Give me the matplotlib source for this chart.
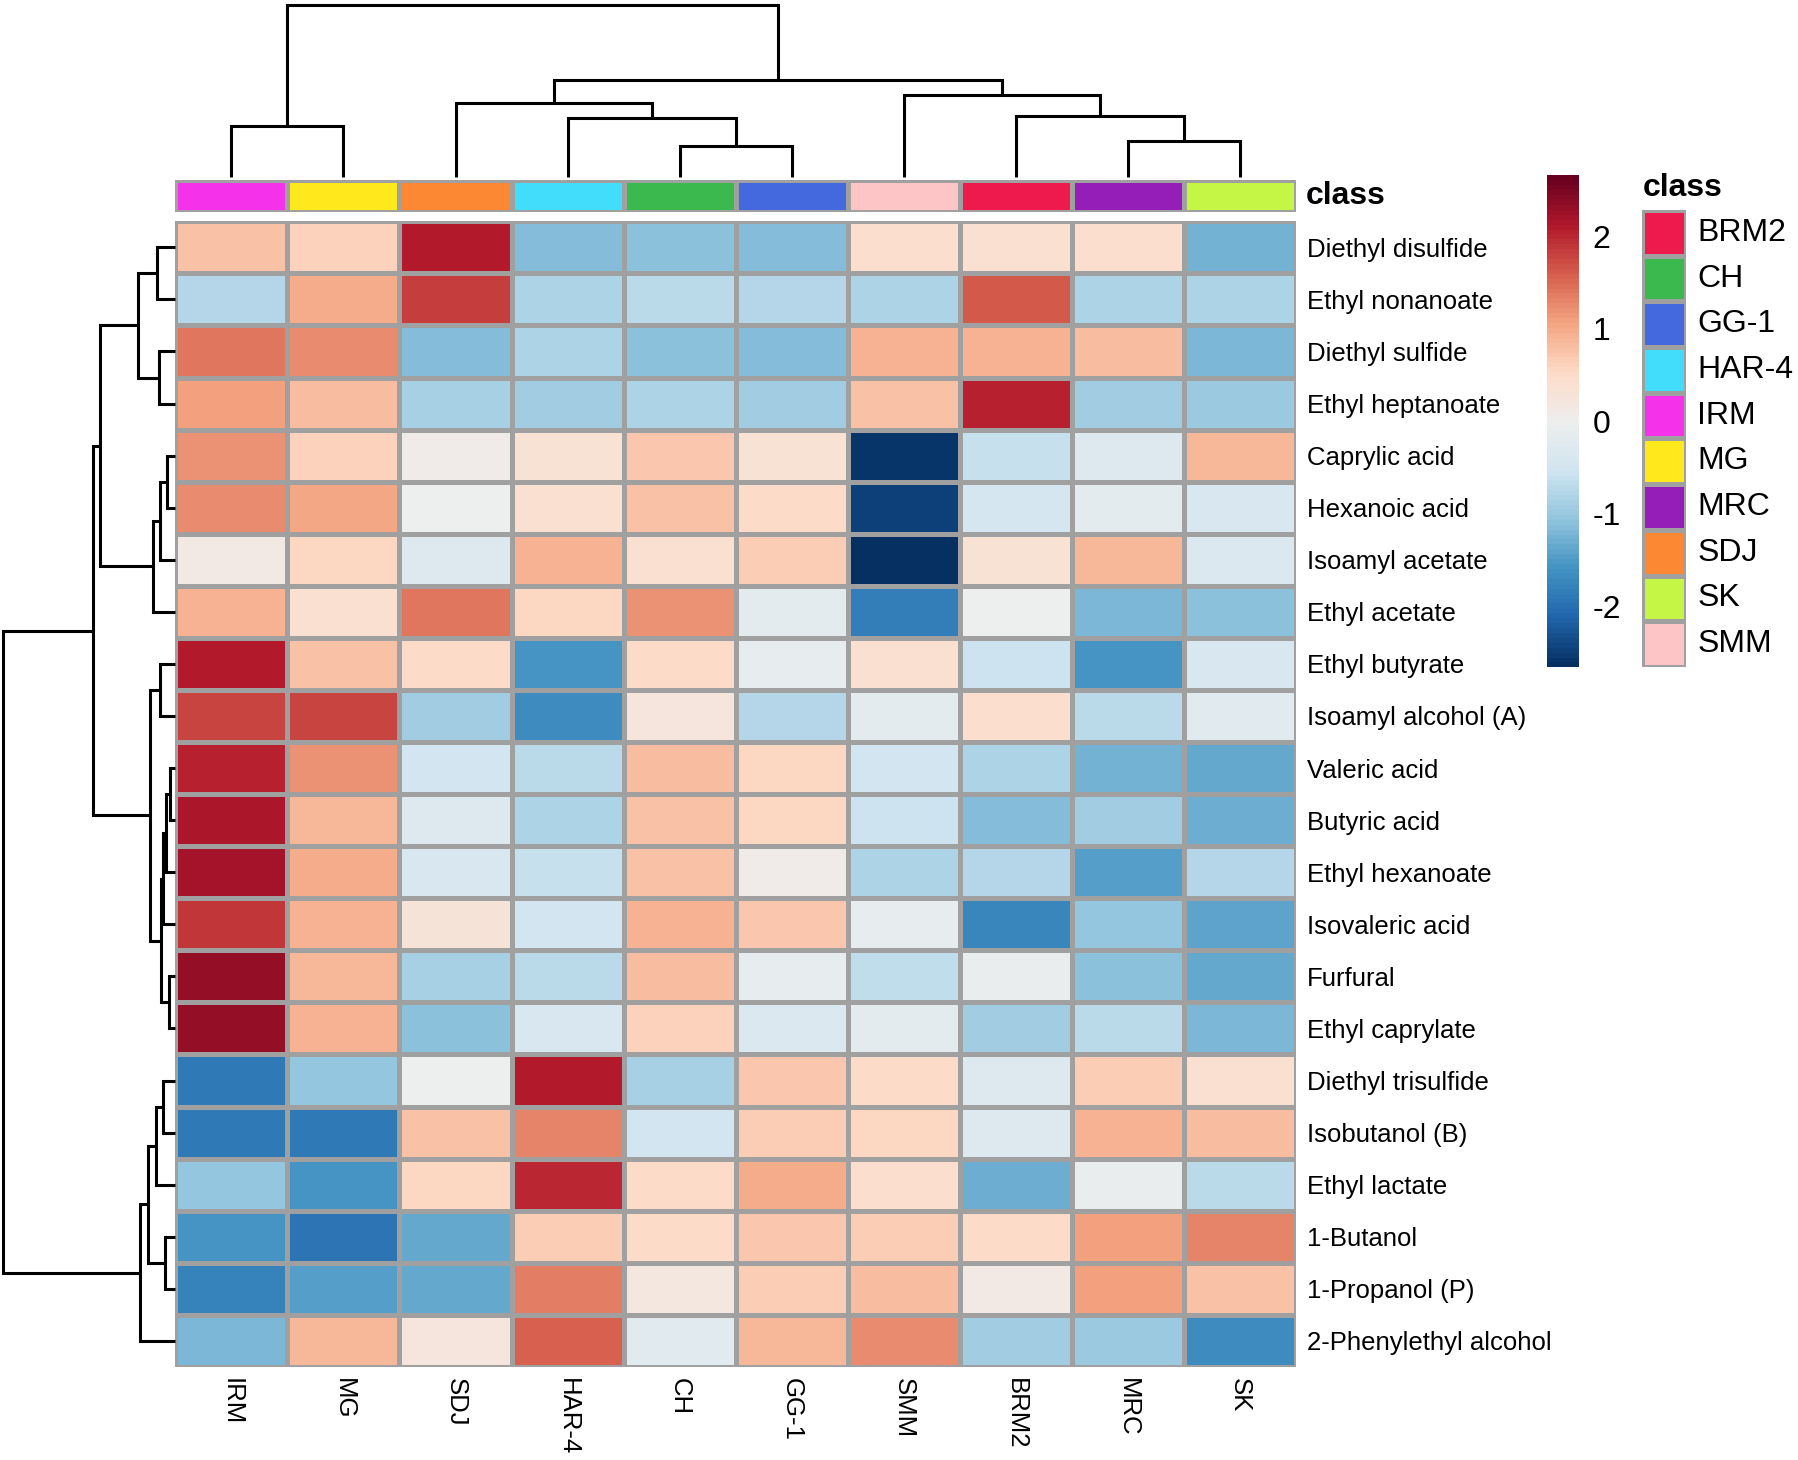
import numpy as np
import matplotlib
matplotlib.use("Agg")
import matplotlib.pyplot as plt
from matplotlib.colors import ListedColormap, LinearSegmentedColormap, Normalize
from matplotlib.cm import ScalarMappable

plt.rcParams["font.family"] = ["Liberation Sans", "DejaVu Sans"]
plt.rcParams["axes.unicode_minus"] = False

# --- data -------------------------------------------------------------
col_labels = ["IRM", "MG", "SDJ", "HAR-4", "CH", "GG-1", "SMM", "BRM2", "MRC", "SK"]
row_labels = [
    "Diethyl disulfide", "Ethyl nonanoate", "Diethyl sulfide", "Ethyl heptanoate",
    "Caprylic acid", "Hexanoic acid", "Isoamyl acetate", "Ethyl acetate",
    "Ethyl butyrate", "Isoamyl alcohol (A)", "Valeric acid", "Butyric acid",
    "Ethyl hexanoate", "Isovaleric acid", "Furfural", "Ethyl caprylate",
    "Diethyl trisulfide", "Isobutanol (B)", "Ethyl lactate", "1-Butanol",
    "1-Propanol (P)", "2-Phenylethyl alcohol",
]
values = [
    [0.75, 0.60, 2.10, -1.15, -1.10, -1.15, 0.45, 0.40, 0.45, -1.25],
    [-0.75, 1.00, 1.85, -0.80, -0.70, -0.75, -0.80, 1.60, -0.85, -0.85],
    [1.40, 1.25, -1.15, -0.80, -1.10, -1.15, 0.95, 0.95, 0.85, -1.20],
    [1.10, 0.85, -0.90, -0.95, -0.85, -0.95, 0.78, 2.05, -0.95, -1.00],
    [1.20, 0.60, 0.10, 0.35, 0.70, 0.35, -2.60, -0.60, -0.30, 0.88],
    [1.25, 1.05, -0.05, 0.40, 0.75, 0.52, -2.45, -0.45, -0.20, -0.40],
    [0.15, 0.55, -0.30, 0.95, 0.40, 0.65, -2.65, 0.35, 0.90, -0.35],
    [0.95, 0.42, 1.42, 0.55, 1.20, -0.20, -1.85, -0.05, -1.20, -1.10],
    [2.12, 0.75, 0.50, -1.55, 0.50, -0.15, 0.40, -0.55, -1.58, -0.42],
    [1.80, 1.78, -0.95, -1.70, 0.25, -0.75, -0.20, 0.45, -0.70, -0.25],
    [2.05, 1.20, -0.50, -0.70, 0.85, 0.55, -0.50, -0.85, -1.25, -1.35],
    [2.15, 0.88, -0.30, -0.80, 0.78, 0.55, -0.55, -1.15, -0.95, -1.30],
    [2.22, 1.00, -0.40, -0.62, 0.77, 0.10, -0.80, -0.75, -1.45, -0.78],
    [1.90, 0.92, 0.30, -0.50, 0.95, 0.70, -0.15, -1.72, -1.05, -1.42],
    [2.30, 0.90, -0.90, -0.72, 0.85, -0.12, -0.65, -0.10, -1.10, -1.35],
    [2.33, 0.95, -1.10, -0.38, 0.62, -0.32, -0.20, -0.93, -0.72, -1.20],
    [-1.90, -1.05, -0.05, 2.08, -0.88, 0.70, 0.48, -0.30, 0.68, 0.40],
    [-1.90, -1.90, 0.75, 1.28, -0.50, 0.68, 0.55, -0.30, 0.95, 0.85],
    [-1.05, -1.55, 0.58, 2.00, 0.53, 1.00, 0.45, -1.30, -0.08, -0.70],
    [-1.58, -1.95, -1.37, 0.68, 0.50, 0.72, 0.65, 0.50, 1.08, 1.28],
    [-1.80, -1.45, -1.38, 1.37, 0.20, 0.68, 0.85, 0.15, 1.07, 0.78],
    [-1.20, 0.88, 0.25, 1.55, -0.25, 0.88, 1.27, -0.95, -0.98, -1.70],
]
value_min, value_max = -2.66, 2.66

legend_classes = ["BRM2", "CH", "GG-1", "HAR-4", "IRM", "MG", "MRC", "SDJ", "SK", "SMM"]
legend_colors = ["#EE1A4E", "#3CB94E", "#4469DE", "#43DDFC", "#F532EA",
                 "#FFE81B", "#951EB8", "#FD8833", "#C5F545", "#FDC5C5"]

# column clustering: merge (a, b) at height h; leaves 0..9, new nodes 10..
col_merge_a = [4, 8, 0, 3, 7, 2, 6, 15, 12]
col_merge_b = [5, 9, 1, 10, 11, 13, 14, 16, 17]
col_merge_h = [31.3, 36.0, 51.0, 59.3, 61.3, 73.7, 82.0, 97.3, 172.3]

# row clustering: leaves 0..21, new nodes 22..
row_merge_a = [10, 14, 4, 22, 19, 25, 16, 27, 8, 24, 2, 0, 28, 31, 30, 34, 37, 33, 39, 40, 41]
row_merge_b = [11, 15, 5, 12, 20, 13, 17, 23, 9, 6, 3, 1, 18, 7, 29, 26, 21, 32, 35, 36, 38]
row_merge_h = [4.3, 5.7, 7.7, 8.3, 9.3, 11.7, 11.7, 13.3, 14.3, 14.7, 15.7, 17.3,
               18.3, 21.7, 24.3, 26.7, 35.0, 36.7, 75.0, 81.7, 171.7]

W, H = 1798, 1460
GRID = "#A0A0A0"

# reversed RdBu, with a slightly greyer centre as in the picture
palette = ["#053061", "#2166AC", "#4393C3", "#92C5DE", "#D1E5F0", "#EEEEEE",
           "#FDDBC7", "#F4A582", "#D6604D", "#B2182B", "#67001F"]


def add_axes_px(fig, x0, y0, x1, y1):
    return fig.add_axes([x0 / W, 1 - y1 / H, (x1 - x0) / W, (y1 - y0) / H])


def draw_dendrogram(ax, n, merge_a, merge_b, merge_h, vertical):
    pos = {i: i + 0.5 for i in range(n)}
    hgt = {i: 0.0 for i in range(n)}
    for k, (a, b, h) in enumerate(zip(merge_a, merge_b, merge_h)):
        xs = [pos[a], pos[a], pos[b], pos[b]]
        ys = [hgt[a], h, h, hgt[b]]
        if vertical:
            ax.plot(xs, ys, color="black", lw=2.2, clip_on=False,
                    solid_capstyle="butt", solid_joinstyle="miter")
        else:
            ax.plot(ys, xs, color="black", lw=2.2, clip_on=False,
                    solid_capstyle="butt", solid_joinstyle="miter")
        pos[n + k] = (pos[a] + pos[b]) / 2
        hgt[n + k] = h
    ax.axis("off")


fig = plt.figure(figsize=(W / 100, H / 100), dpi=100)
cmap = LinearSegmentedColormap.from_list("rdbu_r", palette, N=100)
norm = Normalize(value_min, value_max)

hx0, hx1, hy0, hy1 = 175.4, 1295.8, 221.3, 1366.9
n_rows, n_cols = len(row_labels), len(col_labels)

# heatmap
ax = add_axes_px(fig, hx0, hy0, hx1, hy1)
ax.pcolormesh(np.arange(n_cols + 1), np.arange(n_rows + 1), np.array(values),
              cmap=cmap, norm=norm, edgecolors=GRID, linewidth=2.5)
ax.set_xlim(0, n_cols)
ax.set_ylim(n_rows, 0)
ax.set_yticks(np.arange(n_rows) + 0.5)
ax.set_yticklabels(row_labels, fontsize=18.5)
ax.yaxis.tick_right()
ax.set_xticks(np.arange(n_cols) + 0.5)
ax.set_xticklabels(col_labels, fontsize=18.5, rotation=270, ha="center", va="top")
ax.tick_params(length=0, pad=8)
for s in ax.spines.values():
    s.set_visible(False)

# class annotation bar
axc = add_axes_px(fig, hx0, 180, hx1, 212)
class_cmap = ListedColormap(legend_colors)
class_idx = [legend_classes.index(c) for c in col_labels]
axc.pcolormesh(np.arange(n_cols + 1), [0, 1], np.array([class_idx]),
               cmap=class_cmap, vmin=-0.5, vmax=len(legend_classes) - 0.5,
               edgecolors=GRID, linewidth=2.5)
axc.set_xlim(0, n_cols)
axc.set_ylim(0, 1)
axc.axis("off")
fig.text(1306 / W, 1 - 196 / H, "class", fontsize=23, fontweight="bold",
         ha="left", va="center")

# dendrograms
axd = add_axes_px(fig, hx0, 4.7, hx1, 177.3)
draw_dendrogram(axd, n_cols, col_merge_a, col_merge_b, col_merge_h, True)
axd.set_xlim(0, n_cols)
axd.set_ylim(0, max(col_merge_h))

axr = add_axes_px(fig, 3.3, hy0, 174.7, hy1)
draw_dendrogram(axr, n_rows, row_merge_a, row_merge_b, row_merge_h, False)
axr.set_ylim(n_rows, 0)
axr.set_xlim(max(row_merge_h), 0)

# colour bar
cax = add_axes_px(fig, 1546.8, 175.4, 1578.9, 667.4)
cb = fig.colorbar(ScalarMappable(norm=norm, cmap=cmap), cax=cax, ticks=[-2, -1, 0, 1, 2])
cb.outline.set_visible(False)
cax.tick_params(length=0, pad=10, labelsize=23)

# class legend
axl = add_axes_px(fig, 1641.7, 210, 1686, 667)
axl.pcolormesh([0, 1], np.arange(len(legend_classes) + 1),
               np.arange(len(legend_classes)).reshape(-1, 1),
               cmap=class_cmap, vmin=-0.5, vmax=len(legend_classes) - 0.5,
               edgecolors=GRID, linewidth=2.5)
axl.set_xlim(0, 1)
axl.set_ylim(len(legend_classes), 0)
axl.axis("off")
for i, name in enumerate(legend_classes):
    axl.text(1.25, i + 0.5, name, fontsize=23, ha="left", va="center")
fig.text(1642.7 / W, 1 - 188 / H, "class", fontsize=23, fontweight="bold",
         ha="left", va="center")

fig.savefig("out.png", dpi=100, facecolor="white")
